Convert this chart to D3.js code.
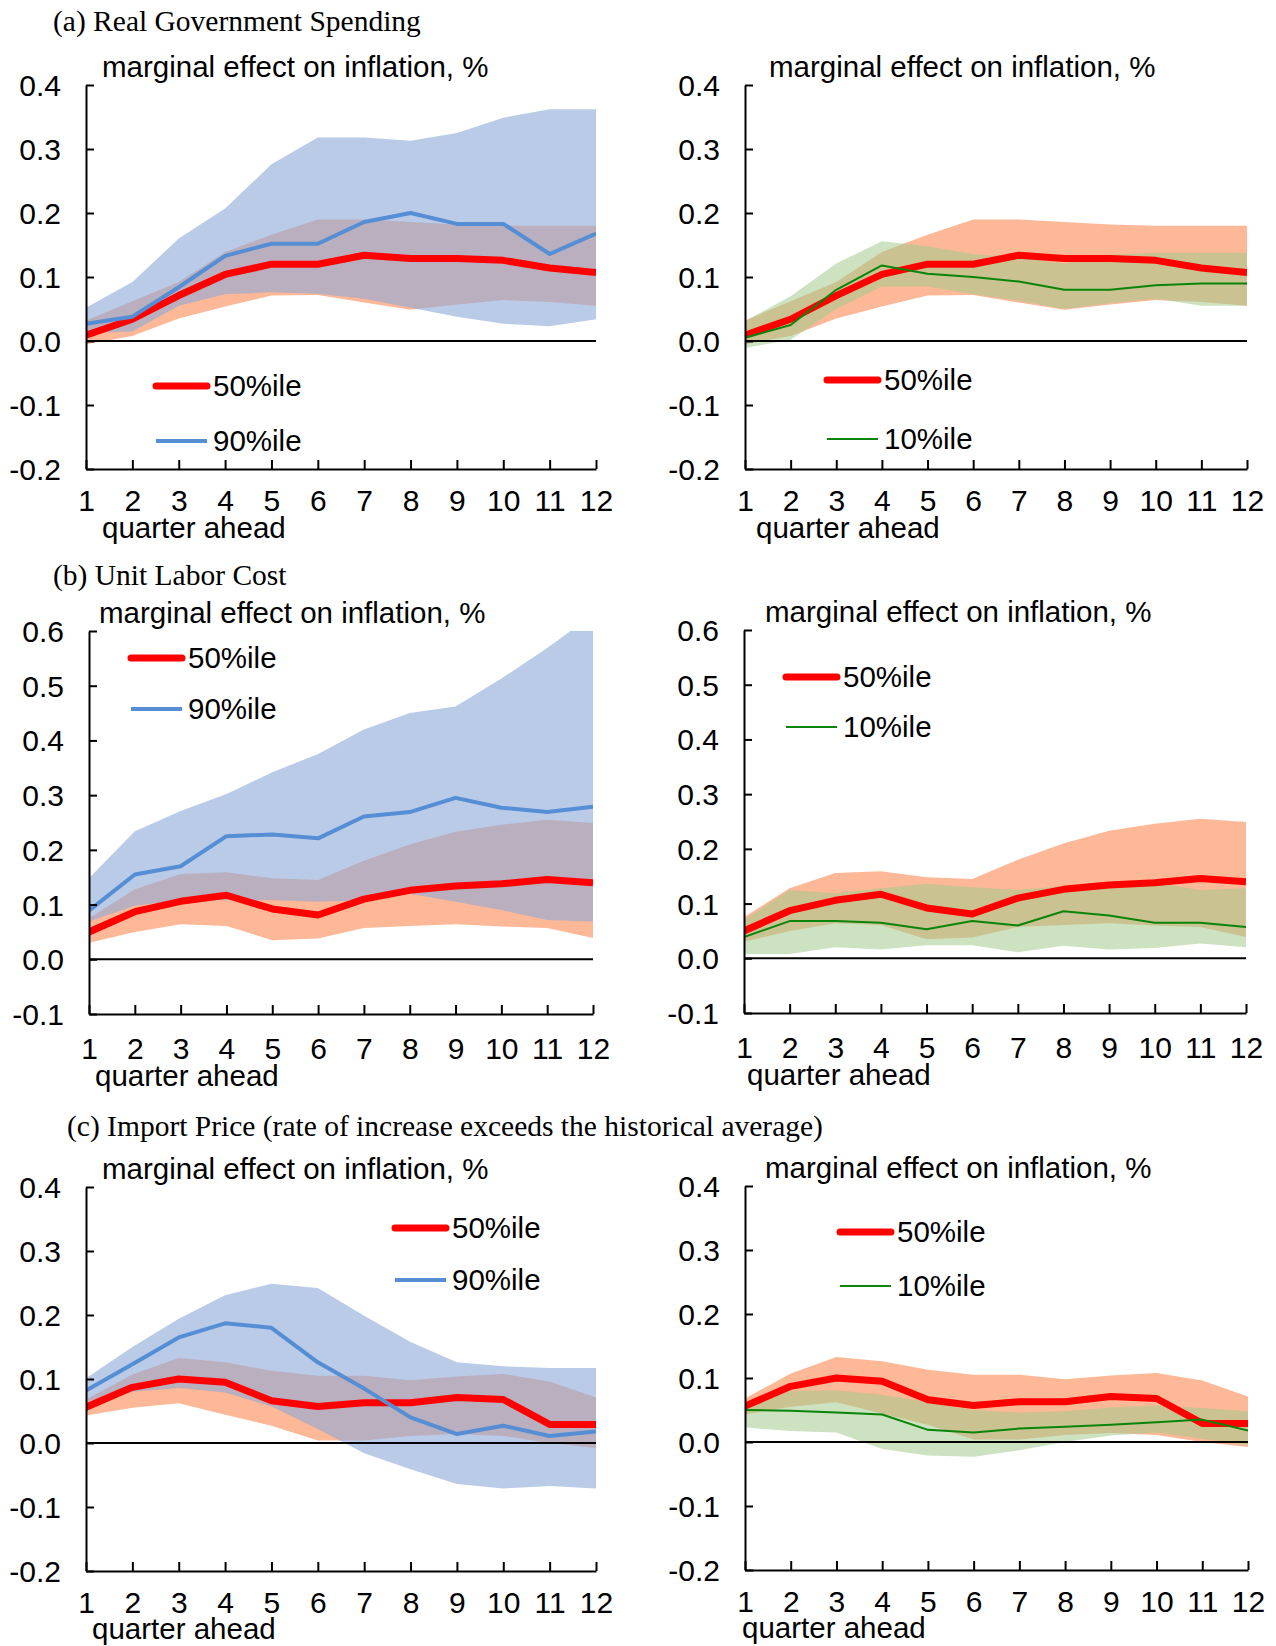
<!DOCTYPE html>
<html><head><meta charset="utf-8">
<script src="https://cdn.jsdelivr.net/npm/d3@7"></script>
<style>body{margin:0;background:#fff} svg{display:block}</style>
</head><body>
<svg id="chart" width="1276" height="1646"></svg>
<script>
// ---------------- DATA ----------------
const quarters = [1,2,3,4,5,6,7,8,9,10,11,12];
const yTicksA = [-0.2,-0.1,0,0.1,0.2,0.3,0.4];
const yTicksB = [-0.1,0,0.1,0.2,0.3,0.4,0.5,0.6];
const yTicksC = [-0.2,-0.1,0,0.1,0.2,0.3,0.4];
const panelTitles = ["(a) Real Government Spending","(b) Unit Labor Cost","(c) Import Price (rate of increase exceeds the historical average)"];
const yAxisTitle = "marginal effect on inflation, %";
const xAxisTitle = "quarter ahead";
const legendNames = {p50:"50%ile", p90:"90%ile", p10:"10%ile"};

// (a) Real Government Spending
const a_p50    = [0.009,0.034,0.071,0.104,0.120,0.120,0.134,0.129,0.129,0.126,0.114,0.107];
const a_p50_lo = [-0.005,0.008,0.035,0.054,0.071,0.072,0.060,0.049,0.057,0.064,0.061,0.055];
const a_p50_hi = [0.032,0.062,0.092,0.139,0.166,0.190,0.190,0.186,0.182,0.180,0.180,0.180];
const a_p90    = [0.027,0.038,0.084,0.133,0.152,0.152,0.186,0.200,0.183,0.183,0.136,0.168];
const a_p90_lo = [0.012,0.015,0.055,0.073,0.076,0.074,0.066,0.052,0.038,0.027,0.023,0.034];
const a_p90_hi = [0.052,0.092,0.160,0.207,0.276,0.318,0.318,0.313,0.325,0.349,0.362,0.362];
const a_p10    = [0.005,0.025,0.080,0.118,0.105,0.100,0.093,0.080,0.080,0.087,0.090,0.090];
const a_p10_lo = [-0.011,0.002,0.050,0.085,0.085,0.073,0.063,0.050,0.059,0.066,0.055,0.055];
const a_p10_hi = [0.031,0.070,0.121,0.156,0.148,0.136,0.130,0.121,0.135,0.138,0.138,0.138];

// (b) Unit Labor Cost
const b_p50    = [0.050,0.087,0.106,0.117,0.092,0.081,0.110,0.126,0.134,0.138,0.146,0.140];
const b_p50_lo = [0.030,0.050,0.064,0.061,0.035,0.038,0.057,0.061,0.064,0.060,0.057,0.039];
const b_p50_hi = [0.075,0.128,0.156,0.159,0.148,0.145,0.180,0.210,0.233,0.246,0.255,0.249];
const b_p90    = [0.089,0.155,0.170,0.225,0.228,0.221,0.261,0.269,0.295,0.277,0.269,0.279];
const b_p90_lo = [0.069,0.098,0.108,0.108,0.108,0.105,0.108,0.120,0.105,0.090,0.072,0.069];
const b_p90_hi = [0.148,0.234,0.271,0.302,0.342,0.375,0.420,0.450,0.462,0.513,0.569,0.630];
const b_p10    = [0.039,0.068,0.068,0.065,0.053,0.068,0.060,0.086,0.078,0.065,0.065,0.057];
const b_p10_lo = [0.008,0.008,0.020,0.016,0.024,0.024,0.011,0.023,0.016,0.019,0.027,0.020];
const b_p10_hi = [0.070,0.125,0.119,0.128,0.136,0.130,0.125,0.132,0.136,0.138,0.125,0.128];

// (c) Import Price
const c_p50    = [0.056,0.087,0.100,0.095,0.066,0.057,0.063,0.063,0.071,0.068,0.029,0.029];
const c_p50_lo = [0.043,0.055,0.062,0.044,0.027,0.004,0.004,0.011,0.014,0.011,0.000,-0.008];
const c_p50_hi = [0.068,0.107,0.133,0.126,0.113,0.105,0.105,0.098,0.104,0.108,0.096,0.071];
const c_p90    = [0.082,0.123,0.165,0.187,0.180,0.126,0.085,0.040,0.014,0.027,0.011,0.018];
const c_p90_lo = [0.065,0.080,0.086,0.079,0.057,0.022,-0.016,-0.041,-0.064,-0.071,-0.067,-0.071];
const c_p90_hi = [0.101,0.150,0.194,0.231,0.249,0.242,0.199,0.158,0.126,0.120,0.117,0.117];
const c_p10    = [0.050,0.049,0.046,0.043,0.019,0.015,0.021,0.024,0.027,0.031,0.035,0.018];
const c_p10_lo = [0.023,0.017,0.015,-0.011,-0.021,-0.023,-0.013,0.000,0.010,0.015,0.005,-0.005];
const c_p10_hi = [0.058,0.080,0.081,0.074,0.062,0.050,0.046,0.048,0.054,0.057,0.053,0.048];

// ---------------- STYLE / LAYOUT ----------------
const SANS = "'Liberation Sans', Arial, sans-serif";
const SERIF = "'Liberation Serif', 'Times New Roman', serif";
const FS = 29.5;      // text size
const FS_TICK = 30;   // tick label size
const COL = {
  orange: "#FDB897",
  blueBand: "rgb(140,168,217)", blueOp: 0.6,
  greenBand: "rgb(162,202,140)", greenOp: 0.55,
  red: "#FF0000", blue: "#558ED5", green: "#0A840A"
};

const panels = [
  {mid:[a_p50,a_p50_lo,a_p50_hi], oth:[a_p90,a_p90_lo,a_p90_hi], kind:"p90", ticks:yTicksA,
   left:86, right:596, top:85, bottom:469, ttlX:102, qaX:102, qaDy:69, tickPad:21, legX:156, legY:[386,441]},
  {mid:[a_p50,a_p50_lo,a_p50_hi], oth:[a_p10,a_p10_lo,a_p10_hi], kind:"p10", ticks:yTicksA,
   left:745, right:1247, top:85, bottom:469, ttlX:769, qaX:756, qaDy:69, tickPad:21, legX:827, legY:[380,439]},
  {mid:[b_p50,b_p50_lo,b_p50_hi], oth:[b_p90,b_p90_lo,b_p90_hi], kind:"p90", ticks:yTicksB,
   left:89, right:593, top:631, bottom:1014, ttlX:99, qaX:95, qaDy:72, tickPad:24, legX:131, legY:[658,709]},
  {mid:[b_p50,b_p50_lo,b_p50_hi], oth:[b_p10,b_p10_lo,b_p10_hi], kind:"p10", ticks:yTicksB,
   left:744, right:1246, top:630, bottom:1013, ttlX:765, qaX:747, qaDy:72, tickPad:24, legX:786, legY:[677,727]},
  {mid:[c_p50,c_p50_lo,c_p50_hi], oth:[c_p90,c_p90_lo,c_p90_hi], kind:"p90", ticks:yTicksC,
   left:86, right:596, top:1187, bottom:1571, ttlX:102, qaX:92, qaDy:68, tickPad:21, legX:395, legY:[1228,1280]},
  {mid:[c_p50,c_p50_lo,c_p50_hi], oth:[c_p10,c_p10_lo,c_p10_hi], kind:"p10", ticks:yTicksC,
   left:745, right:1248, top:1186, bottom:1570, ttlX:765, qaX:742, qaDy:68, tickPad:21, legX:840, legY:[1232,1286]}
];
const titlePos = [{x:53,y:31},{x:53,y:585},{x:67,y:1136}];

// ---------------- DRAW ----------------
const svg = d3.select("#chart");
const defs = svg.append("defs");

titlePos.forEach((p,i)=>{
  svg.append("text").attr("x",p.x).attr("y",p.y)
    .attr("font-family",SERIF).attr("font-size",29.5).attr("fill","#000")
    .text(panelTitles[i]);
});

panels.forEach((cfg,pi)=>{
  const ticks = cfg.ticks;
  const x = d3.scaleLinear().domain([quarters[0], quarters[quarters.length-1]]).range([cfg.left,cfg.right]);
  const y = d3.scaleLinear().domain([ticks[0], ticks[ticks.length-1]]).range([cfg.bottom,cfg.top]);
  const g = svg.append("g");
  const cid = "clip"+pi;
  defs.append("clipPath").attr("id",cid).append("rect")
    .attr("x",cfg.left).attr("y",cfg.top).attr("width",cfg.right-cfg.left).attr("height",cfg.bottom-cfg.top);

  const area = d3.area().x((d,i)=>x(quarters[i])).y0(d=>y(d[0])).y1(d=>y(d[1]));
  const line = d3.line().x((d,i)=>x(quarters[i])).y(d=>y(d));
  const isBlue = cfg.kind==="p90";

  const plot = g.append("g").attr("clip-path",`url(#${cid})`);
  plot.append("path").datum(d3.zip(cfg.mid[1],cfg.mid[2])).attr("d",area).attr("fill",COL.orange);
  plot.append("path").datum(d3.zip(cfg.oth[1],cfg.oth[2])).attr("d",area)
    .attr("fill",isBlue?COL.blueBand:COL.greenBand).attr("fill-opacity",isBlue?COL.blueOp:COL.greenOp);

  // zero line
  g.append("line").attr("x1",x(1)).attr("x2",x(12)).attr("y1",y(0)).attr("y2",y(0))
    .attr("stroke","#000").attr("stroke-width",2);

  // lines
  plot.append("path").datum(cfg.mid[0]).attr("d",line).attr("fill","none")
    .attr("stroke",COL.red).attr("stroke-width",7).attr("stroke-linejoin","round");
  plot.append("path").datum(cfg.oth[0]).attr("d",line).attr("fill","none")
    .attr("stroke",isBlue?COL.blue:COL.green).attr("stroke-width",isBlue?4:2).attr("stroke-linejoin","round");

  // axes
  const yAx = d3.axisLeft(y).tickValues(ticks).tickSizeInner(-8).tickSizeOuter(0).tickPadding(25)
    .tickFormat(d=>d.toFixed(1));
  const ya = g.append("g").attr("transform",`translate(${cfg.left},0)`).call(yAx);
  const xAx = d3.axisBottom(x).tickValues(quarters).tickSizeInner(-9).tickSizeOuter(0).tickPadding(cfg.tickPad)
    .tickFormat(d3.format("d"));
  const xa = g.append("g").attr("transform",`translate(0,${cfg.bottom})`).call(xAx);
  [ya,xa].forEach(a=>{
    a.select(".domain").attr("stroke","#000").attr("stroke-width",2);
    a.selectAll(".tick line").attr("stroke","#000").attr("stroke-width",2);
    a.selectAll(".tick text").attr("font-family",SANS).attr("font-size",FS_TICK).attr("fill","#000");
  });
  ya.selectAll(".tick text").attr("dy","0.35em");

  // axis titles
  g.append("text").attr("x",cfg.ttlX).attr("y",cfg.top-8)
    .attr("font-family",SANS).attr("font-size",FS).attr("fill","#000").text(yAxisTitle);
  g.append("text").attr("x",cfg.qaX).attr("y",cfg.bottom+cfg.qaDy)
    .attr("font-family",SANS).attr("font-size",FS).attr("fill","#000").text(xAxisTitle);

  // legend
  const leg = g.append("g");
  const items = [
    {name:legendNames.p50, color:COL.red, w:7, cap:"round"},
    {name:legendNames[cfg.kind], color:isBlue?COL.blue:COL.green, w:isBlue?4:2, cap:"butt"}
  ];
  items.forEach((it,k)=>{
    const ly = cfg.legY[k];
    leg.append("line").attr("x1",cfg.legX).attr("x2",cfg.legX+51).attr("y1",ly).attr("y2",ly)
      .attr("stroke",it.color).attr("stroke-width",it.w).attr("stroke-linecap",it.cap);
    leg.append("text").attr("x",cfg.legX+57).attr("y",ly).attr("dy","0.35em")
      .attr("font-family",SANS).attr("font-size",FS).attr("fill","#000").text(it.name);
  });
});
</script></body></html>
